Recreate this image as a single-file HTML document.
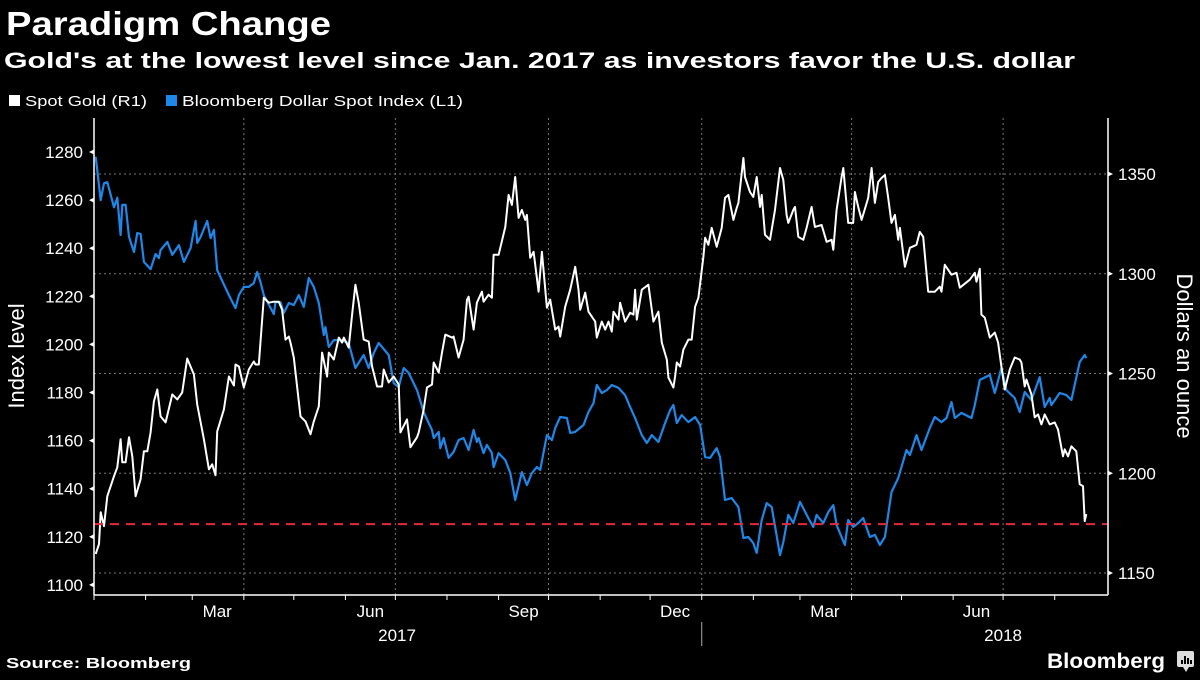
<!DOCTYPE html>
<html><head><meta charset="utf-8">
<style>
html,body{margin:0;padding:0;background:#000;}
body{width:1200px;height:675px;overflow:hidden;font-family:"Liberation Sans",sans-serif;}
svg text{font-family:"Liberation Sans",sans-serif;fill:#fff;}
</style></head>
<body>
<svg id="chart" width="1200" height="675" viewBox="0 0 1200 675" xmlns="http://www.w3.org/2000/svg">
<text x="6" y="35" font-size="33" font-weight="bold" textLength="325" lengthAdjust="spacingAndGlyphs">Paradigm Change</text>
<text x="4" y="68" font-size="22" font-weight="bold" textLength="1071" lengthAdjust="spacingAndGlyphs">Gold's at the lowest level since Jan. 2017 as investors favor the U.S. dollar</text>
<g>
<rect x="9" y="95" width="11" height="11" fill="#fff"/>
<text x="25" y="106" font-size="15" fill="#ddd" textLength="122" lengthAdjust="spacingAndGlyphs">Spot Gold (R1)</text>
<rect x="166" y="95" width="11" height="11" fill="#1f87e8"/>
<text x="182" y="106" font-size="15" fill="#ddd" textLength="281" lengthAdjust="spacingAndGlyphs">Bloomberg Dollar Spot Index (L1)</text>
</g>
<g id="grid"></g>
<g id="series"></g>
<g id="axes"></g>
<text transform="translate(24,356) rotate(-90)" text-anchor="middle" font-size="22">Index level</text>
<text transform="translate(1177,356) rotate(90)" text-anchor="middle" font-size="22">Dollars an ounce</text>
<text x="6" y="668" font-size="15" font-weight="bold" textLength="185" lengthAdjust="spacingAndGlyphs">Source: Bloomberg</text>
<text x="1047" y="668" font-size="21" font-weight="bold" textLength="118" lengthAdjust="spacingAndGlyphs">Bloomberg</text>
<g>
<rect x="1177" y="651" width="17" height="16" rx="2" fill="#ddd"/>
<path d="M1183 667 L1186 672 L1189 667 Z" fill="#ddd"/>
<rect x="1181" y="660" width="2" height="4" fill="#000"/><rect x="1184" y="656" width="2" height="8" fill="#000"/><rect x="1187" y="658" width="2" height="6" fill="#000"/><rect x="1190" y="660" width="2" height="4" fill="#000"/>
</g>
</svg>
<script>
// Bloomberg Dollar Spot Index (left axis): day offset from 2017-01-01, value
const dollarDays = [1,4,6,8,12,14,16,17,19,21,24,26,28,30,34,37,39,40,44,47,51,54,58,61,62,64,68,70,72,74,81,85,87,90,93,96,98,100,102,108,109,112,114,117,120,123,126,129,132,135,138,139,141,144,148,153,157,162,165,168,171,177,180,183,186,189,194,198,201,203,204,207,208,210,213,216,219,222,225,228,230,231,234,236,239,240,243,247,250,253,257,260,263,266,268,272,275,277,280,284,286,289,294,297,300,302,305,308,311,315,319,322,325,329,332,335,339,343,346,348,350,353,357,361,364,367,370,374,376,379,383,387,390,393,396,398,401,404,407,412,414,417,420,424,429,432,434,438,441,444,446,451,453,456,459,462,466,469,472,475,479,483,488,490,494,497,502,505,509,512,515,517,521,527,529,532,538,541,545,548,553,556,559,563,568,571,574,575,580,584,587,592,595,596];
const dollarValues = [1278,1260,1267,1267.5,1257,1261,1245.5,1258,1258,1244.7,1238.4,1246.3,1245.9,1234.3,1231.3,1237.6,1235.9,1239.2,1242.6,1237.2,1241.3,1234.3,1240.1,1251.3,1242.2,1244.7,1251.3,1244.2,1247.6,1230.9,1220.5,1215.1,1220.5,1223.9,1223.9,1225.5,1230.1,1225.9,1220.5,1212.6,1217.6,1217.6,1213.1,1217.2,1216.4,1220.5,1215.6,1227.6,1223.9,1217.2,1203.9,1207.2,1198.9,1201.8,1201.8,1200.6,1190.2,1195.6,1190.2,1196.4,1200.6,1195.6,1183.9,1182.3,1190.2,1188.1,1181,1171.9,1167.3,1164.4,1161.1,1163.6,1156.9,1161.1,1152.8,1155.3,1160.2,1161.1,1156.1,1164.4,1159.4,1161.1,1154.8,1158.2,1154.8,1149,1154.8,1151.9,1146.5,1135.3,1146.9,1141.5,1146.5,1149,1147.8,1162.3,1160.2,1165.2,1169.8,1169.4,1163.2,1163.6,1166.5,1171.9,1175.6,1183.1,1179.8,1181,1183.1,1181.9,1178.9,1174,1169.4,1162.3,1159,1162.3,1159.4,1167.3,1172.7,1174.8,1167.3,1170.6,1167.7,1169.8,1166.5,1153.2,1152.8,1156.9,1153.2,1135.3,1136.1,1132.4,1119.5,1119.9,1117.4,1113.3,1127,1134,1132.4,1112.4,1117.8,1129.1,1125.7,1134.5,1127.8,1124.1,1129.1,1125.7,1130.3,1133.2,1124.9,1116.6,1127,1124.1,1125.7,1127.8,1119.9,1120.8,1116.6,1119.9,1138.6,1144.4,1156.1,1154,1162.3,1156.1,1165.2,1169.8,1167.7,1169.4,1176,1169.4,1171.5,1169.4,1174.8,1185.2,1187.3,1179.8,1190.2,1181,1177.7,1171.9,1180.2,1176.9,1186.4,1174,1177.7,1174.8,1179.8,1178.9,1176.9,1192.7,1195.6,1194.3];
// Spot Gold (right axis)
const goldDays = [1,3,4,6,8,12,14,16,17,19,21,23,25,28,30,32,34,36,38,40,43,47,50,53,56,60,62,66,69,71,73,74,78,81,84,85,87,90,93,96,97,99,102,105,108,111,113,115,117,118,120,124,127,130,132,135,137,140,141,144,147,149,150,153,155,157,159,162,165,167,170,173,174,177,180,183,184,188,190,194,195,198,200,203,204,207,209,211,215,216,219,222,224,225,228,230,233,234,237,239,240,243,247,249,251,253,255,257,259,260,262,264,267,269,272,274,277,279,280,283,286,289,291,292,295,297,301,302,305,307,309,311,312,315,316,319,322,324,325,326,329,333,336,339,341,344,345,348,349,350,352,354,357,359,361,363,366,367,369,371,374,377,379,381,384,386,387,390,391,394,396,398,400,401,403,406,409,412,414,416,417,420,421,423,426,428,431,433,437,440,443,444,446,449,450,453,456,457,459,461,465,467,469,471,473,475,477,479,481,483,484,487,490,494,496,498,501,505,508,509,511,515,518,520,526,529,530,532,533,535,538,541,543,545,547,550,553,556,557,559,560,563,565,567,569,571,574,577,579,582,583,585,587,590,592,594,595,596];
const goldValues = [1159.5,1164.5,1180.5,1173.5,1188.5,1198.5,1203,1217,1205.5,1205.5,1218,1208.5,1188.5,1197,1211,1211,1220.5,1236,1242,1228.5,1225.5,1239.5,1237,1240.5,1257.5,1249.5,1234.5,1217,1202,1204.5,1199,1221,1232,1248.5,1244,1254.5,1253.5,1243,1252,1256,1254.5,1254.5,1288,1285.5,1286,1286,1282,1267,1268.5,1265.5,1258,1228.5,1226,1219.5,1226,1233.5,1260.5,1248.5,1260.5,1257,1268,1265.5,1268,1263,1279.5,1294.5,1285.5,1267,1266,1253.5,1243.5,1243.5,1252,1245.5,1248.5,1244.5,1220.5,1227,1213,1218,1220.5,1232,1243,1244.5,1255.5,1250.5,1260.5,1269.5,1268,1268.5,1258,1267,1287,1288.5,1272,1285.5,1291,1286,1289.5,1288,1309.5,1309.5,1323.5,1339.5,1334.5,1348.5,1328,1332,1327,1329.5,1308,1311,1291,1311,1283,1287,1272,1273.5,1268.5,1283.5,1292,1303.5,1292,1282,1290.5,1281,1276,1268,1276,1272,1276,1271,1281,1277,1285.5,1276,1280.5,1279.5,1292,1277,1292,1294.5,1276,1281,1265.5,1257,1248,1243,1248.5,1255.5,1253.5,1262,1267,1267,1283.5,1288,1308.5,1318,1314.5,1323,1313.5,1323,1338,1339.5,1327,1333,1335.5,1358,1348.5,1341,1338.5,1348.5,1333.5,1339.5,1319.5,1317,1332,1353,1347,1329.5,1325.5,1332,1333.5,1318.5,1317,1323,1333.5,1323.5,1324.5,1316,1317,1312,1332,1348.5,1353,1325.5,1325.5,1341,1333.5,1327,1338,1353,1335.5,1346,1348,1349.5,1338,1325.5,1329.5,1317,1323,1303.5,1313,1314.5,1321,1318.5,1291,1291,1293.5,1291,1304.5,1299.5,1300.5,1293,1297,1300.5,1296,1302.5,1279.5,1278,1268,1270.5,1265.5,1253.5,1242,1252,1258,1257,1255.5,1243.5,1247,1239.5,1228,1229.5,1224.5,1229.5,1224.5,1225.5,1222,1208.5,1212,1208.5,1213.5,1211,1194.5,1193.5,1176,1179.5];
const leftTicks = [1100,1120,1140,1160,1180,1200,1220,1240,1260,1280];
const rightTicks = [1150,1200,1250,1300,1350];
const monthStartDays = [0,31,59,90,120,151,181,212,243,273,304,334,365,396,424,455,485,516,546,577];
const monthLabels = ["Mar","Jun","Sep","Dec","Mar","Jun"];
const monthLabelDays = [74,166,258,349,439,530];
const quarterDays = [90,181,273,365,455,546];
const yearLabels = ["2017","2018"];
const yearLabelDays = [182,546];
const refLevel = 1174.5; // gold low, dashed line (right axis)

const NS = "http://www.w3.org/2000/svg";
const X0 = 94, X1 = 1108, YT = 118, YB = 595;
function xS(d){ return 94 + d * 1.665; }
function yL(v){ return 152 + (1280 - v) * 2.405; }
function yR(v){ return 174 + (1350 - v) * 1.995; }
function mk(tag, attrs, parent){
  const e = document.createElementNS(NS, tag);
  for (const k in attrs) e.setAttribute(k, attrs[k]);
  parent.appendChild(e); return e;
}
const grid = document.getElementById('grid');
const axes = document.getElementById('axes');
const series = document.getElementById('series');

rightTicks.forEach(v => {
  const l = mk('line', {x1:X0, x2:X1, y1:yR(v), y2:yR(v), stroke:'#777', 'stroke-width':1, 'stroke-dasharray':'2,3'}, grid);
  
  
});
quarterDays.forEach(d => {
  const l = mk('line', {x1:xS(d), x2:xS(d), y1:YT, y2:YB, stroke:'#777', 'stroke-width':1, 'stroke-dasharray':'2,3'}, grid);
  
  
});

let a = mk('line', {x1:X0, x2:X0, y1:YT, y2:YB, stroke:'#fff', 'stroke-width':1.5}, axes);


a = mk('line', {x1:X1, x2:X1, y1:YT, y2:YB, stroke:'#fff', 'stroke-width':1.5}, axes);


a = mk('line', {x1:X0, x2:X1, y1:YB, y2:YB, stroke:'#fff', 'stroke-width':1.5}, axes);



leftTicks.forEach(v => {
  const y = yL(v);
  const p = mk('path', {d:`M${X0} ${y-2.5} L${X0-5} ${y} L${X0} ${y+2.5} Z`, fill:'#fff'}, axes);
  
  
  const t = mk('text', {x:83, y:y+6, 'text-anchor':'end', 'font-size':17}, axes);
  t.textContent = v;
  
  
});
rightTicks.forEach(v => {
  const y = yR(v);
  const p = mk('path', {d:`M${X1} ${y-2.5} L${X1+5} ${y} L${X1} ${y+2.5} Z`, fill:'#fff'}, axes);
  
  
  const t = mk('text', {x:1118, y:y+6, 'font-size':17}, axes);
  t.textContent = v;
  
  
});
monthStartDays.forEach(d => {
  const l = mk('line', {x1:xS(d), x2:xS(d), y1:YB, y2:YB+5, stroke:'#fff', 'stroke-width':1}, axes);
  
  
});
monthLabels.forEach((m, i) => {
  const t = mk('text', {x:xS(monthLabelDays[i]), y:617, 'text-anchor':'middle', 'font-size':17}, axes);
  t.textContent = m;
  
  
});
yearLabels.forEach((yv, i) => {
  const t = mk('text', {x:xS(yearLabelDays[i]), y:641, 'text-anchor':'middle', 'font-size':17}, axes);
  t.textContent = yv;
  
  
});
a = mk('line', {x1:xS(365), x2:xS(365), y1:622, y2:646, stroke:'#aaa', 'stroke-width':1}, axes);



const dPath = dollarDays.map((d, i) => (i ? 'L' : 'M') + xS(d).toFixed(1) + ' ' + yL(dollarValues[i]).toFixed(1)).join(' ');
const dl = mk('path', {d:dPath, fill:'none', stroke:'#1f87e8', 'stroke-width':2.2, 'stroke-linejoin':'round'}, series);


const gPath = goldDays.map((d, i) => (i ? 'L' : 'M') + xS(d).toFixed(1) + ' ' + yR(goldValues[i]).toFixed(1)).join(' ');
const gl = mk('path', {d:gPath, fill:'none', stroke:'#fff', 'stroke-width':2, 'stroke-linejoin':'round'}, series);


const rl = mk('line', {x1:X0, x2:X1, y1:yR(refLevel), y2:yR(refLevel), stroke:'#e8273c', 'stroke-width':2, 'stroke-dasharray':'9,7'}, series);


</script>
</body></html>
